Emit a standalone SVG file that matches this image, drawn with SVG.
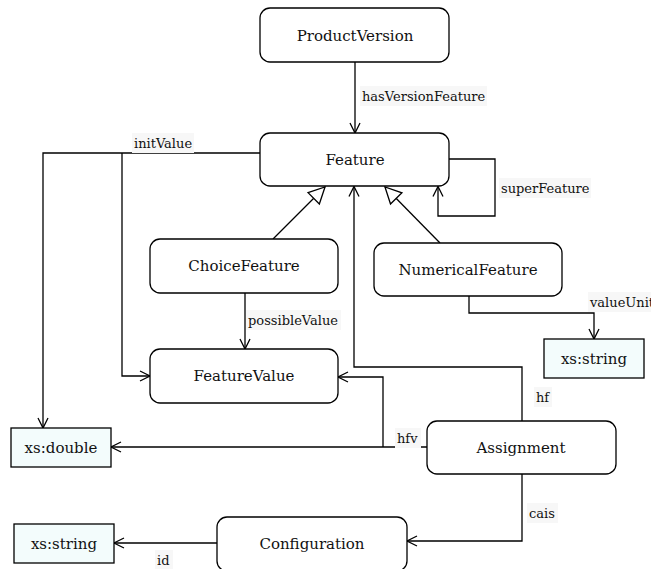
<svg xmlns="http://www.w3.org/2000/svg" width="651" height="569" viewBox="0 0 651 569" font-family="'DejaVu Serif', serif">
<style>
.node{fill:#fff;stroke:#000;stroke-width:1.3}
.type{fill:#f3fcfc;stroke:#000;stroke-width:1.3}
.nt{font-family:'DejaVu Serif',serif;font-size:15px;text-anchor:middle;fill:#111}
.lt{font-family:'DejaVu Serif',serif;font-size:13px;fill:#111}
.lbg{fill:#f7f7f7}
.c{fill:none;stroke:#000;stroke-width:1.3}
</style>
<defs>
<marker id="arr" markerUnits="userSpaceOnUse" markerWidth="12" markerHeight="12" refX="10" refY="5" orient="auto" viewBox="0 0 12 12" overflow="visible">
<path d="M0,0 L10,5 L0,10" fill="none" stroke="#000" stroke-width="1.3"/>
</marker>
<marker id="inh" markerUnits="userSpaceOnUse" markerWidth="18" markerHeight="18" refX="16" refY="8" orient="auto" viewBox="0 0 18 18" overflow="visible">
<path d="M0,0 L16,8 L0,16 Z" fill="#fff" stroke="#000" stroke-width="1.3"/>
</marker>
</defs>
<g id="connectors">
<path class="c" d="M355,62 V133" marker-end="url(#arr)"/>
<path class="c" d="M449,159 H495 V216 H438 V186.5" marker-end="url(#arr)"/>
<path class="c" d="M273,239 L325,187" marker-end="url(#inh)"/>
<path class="c" d="M440,243 L385,187" marker-end="url(#inh)"/>
<path class="c" d="M522,421 V367 H354 V186.5" marker-end="url(#arr)"/>
<path class="c" d="M469,296 V313 H594 V339" marker-end="url(#arr)"/>
<path class="c" d="M245,293 V349" marker-end="url(#arr)"/>
<path class="c" d="M260,153 H43 V428" marker-end="url(#arr)"/>
<path class="c" d="M122,153 V376 H150" marker-end="url(#arr)"/>
<path class="c" d="M427,447 H111" marker-end="url(#arr)"/>
<path class="c" d="M383,447 V377 H338" marker-end="url(#arr)"/>
<path class="c" d="M522,474 V541 H407" marker-end="url(#arr)"/>
<path class="c" d="M217,543 H114" marker-end="url(#arr)"/>
<rect class="lbg" x="360" y="86" width="127" height="20"/>
<text class="lt" x="362" y="101">hasVersionFeature</text>
<rect class="lbg" x="132" y="133" width="62" height="20"/>
<text class="lt" x="134" y="148">initValue</text>
<rect class="lbg" x="499" y="178" width="92" height="20"/>
<text class="lt" x="501" y="193">superFeature</text>
<rect class="lbg" x="246" y="310" width="95" height="20"/>
<text class="lt" x="248" y="325">possibleValue</text>
<rect class="lbg" x="588" y="292" width="65" height="20"/>
<text class="lt" x="590" y="307">valueUnit</text>
<rect class="lbg" x="534" y="387" width="18" height="20"/>
<text class="lt" x="536" y="402">hf</text>
<rect class="lbg" x="395" y="428" width="26" height="20"/>
<text class="lt" x="397" y="443">hfv</text>
<rect class="lbg" x="527" y="503" width="31" height="20"/>
<text class="lt" x="529" y="518">cais</text>
<rect class="lbg" x="155" y="550" width="18" height="20"/>
<text class="lt" x="157" y="565">id</text>
</g>
<g id="ProductVersion">
<rect class="node" x="260" y="8" width="189" height="54" rx="10"/>
<text class="nt" x="355" y="41">ProductVersion</text>
</g>
<g id="Feature">
<rect class="node" x="260" y="133" width="189" height="53" rx="10"/>
<text class="nt" x="355" y="165">Feature</text>
</g>
<g id="ChoiceFeature">
<rect class="node" x="150" y="239" width="188" height="54" rx="10"/>
<text class="nt" x="244" y="271">ChoiceFeature</text>
</g>
<g id="NumericalFeature">
<rect class="node" x="374" y="243" width="188" height="53" rx="10"/>
<text class="nt" x="468" y="275">NumericalFeature</text>
</g>
<g id="FeatureValue">
<rect class="node" x="150" y="349" width="188" height="54" rx="10"/>
<text class="nt" x="244" y="381">FeatureValue</text>
</g>
<g id="xs_string_top">
<rect class="type" x="544" y="339" width="100" height="39"/>
<text class="nt" x="594" y="364">xs:string</text>
</g>
<g id="xs_double">
<rect class="type" x="11" y="428" width="100" height="39"/>
<text class="nt" x="61" y="453">xs:double</text>
</g>
<g id="Assignment">
<rect class="node" x="427" y="421" width="189" height="53" rx="10"/>
<text class="nt" x="521" y="453">Assignment</text>
</g>
<g id="Configuration">
<rect class="node" x="217" y="517" width="190" height="54" rx="10"/>
<text class="nt" x="312" y="549">Configuration</text>
</g>
<g id="xs_string_bottom">
<rect class="type" x="14" y="524" width="100" height="39"/>
<text class="nt" x="64" y="549">xs:string</text>
</g>
</svg>
